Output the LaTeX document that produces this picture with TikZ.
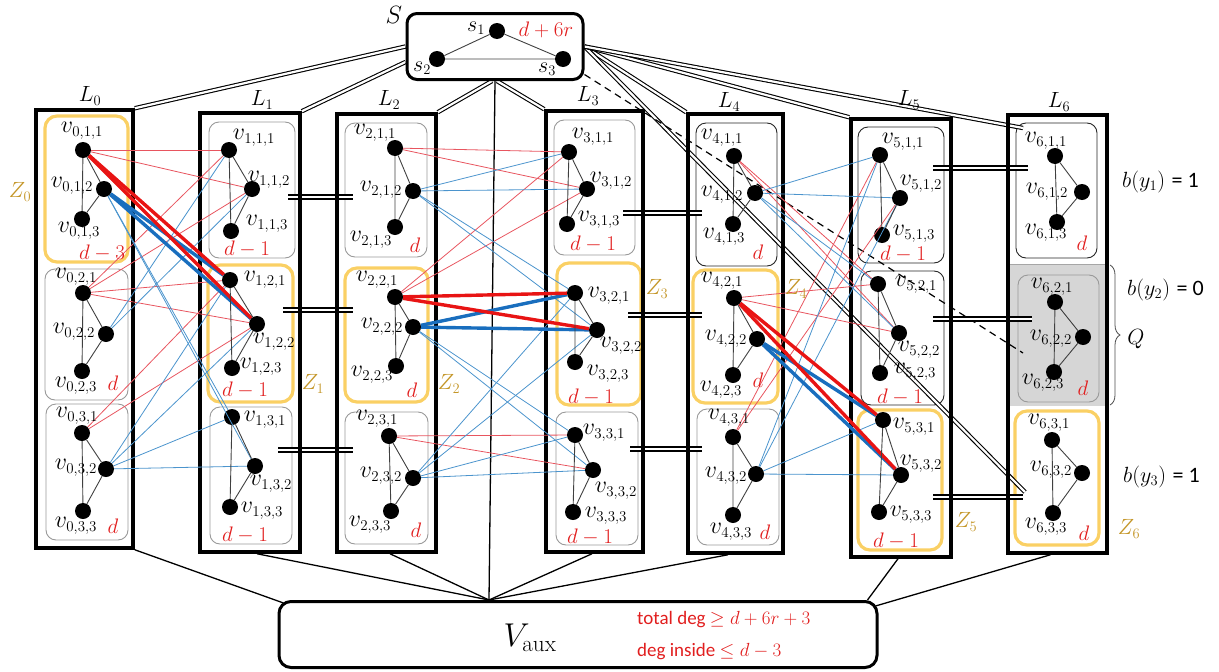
\RequirePackage{fix-cm}
\documentclass[tikz,border=0pt]{standalone}
\usepackage{fontspec}
\newfontfamily\calib{Carlito}
\usetikzlibrary{decorations.pathreplacing}
\DeclareMathSizes{24}{24}{15}{11}
\DeclareMathSizes{22}{22}{14.5}{10}
\DeclareMathSizes{25}{25}{16}{12}
\definecolor{dred}{RGB}{232,20,20}
\definecolor{lred}{RGB}{232,85,95}
\definecolor{dblue}{RGB}{25,110,190}
\definecolor{lblue}{RGB}{75,148,205}
\definecolor{zyel}{RGB}{250,208,100}
\definecolor{zgold}{RGB}{196,150,40}
\definecolor{dtxt}{RGB}{225,30,30}
\pgfdeclarelayer{bg}
\pgfdeclarelayer{mid}
\pgfsetlayers{bg,mid,main}
\newcommand{\mybox}[6]{\node[#1, minimum width={#4-#2}, minimum height={#5-#3}] (#6) at ({(#2+#4)/2},{(#3+#5)/2}) {};}
\tikzset{
 vtx/.style={circle, fill=black, inner sep=0pt, minimum size=16pt},
 vl/.style={inner sep=0pt, font=\fontsize{24}{26}\selectfont},
 sl/.style={inner sep=0pt, font=\fontsize{22}{24}\selectfont},
 dl/.style={inner sep=0pt, text=dtxt, font=\fontsize{21}{23}\selectfont},
 zl/.style={inner sep=0pt, text=zgold, font=\fontsize{22}{24}\selectfont},
 ll/.style={inner sep=0pt, font=\fontsize{22}{24}\selectfont},
 lbox/.style={draw, line width=3.5pt, inner sep=0pt},
 gbox/.style={draw=black!40, line width=0.9pt, rounded corners=10pt, inner sep=0pt},
 kbox/.style={draw=black!85, line width=0.9pt, rounded corners=10pt, inner sep=0pt},
 ybox/.style={draw=zyel, line width=3.2pt, rounded corners=12pt, inner sep=0pt},
 tri/.style={draw=black!75, line width=0.9pt},
 rt/.style={draw=lred, line width=0.8pt},
 rT/.style={draw=dred, line width=3.4pt},
 bt/.style={draw=lblue, line width=0.8pt},
 bT/.style={draw=dblue, line width=3.4pt},
 dbl/.style={double, double distance=2.2pt, line width=1.1pt},
 eqm/.style={double, double distance=2.6pt, line width=1.5pt},
 fan/.style={line width=1.3pt},
}
\begin{document}
\begin{tikzpicture}[x=1pt,y=-1pt]
\useasboundingbox (0,0) rectangle (1219,672);

% ---------- background: shading and group boxes
\begin{pgfonlayer}{bg}
\fill[black!16] (1008,264) rectangle (1107,406);
\draw[black!35, line width=0.6pt] (1008,264) -- (1107,264);
\mybox{ybox}{45}{116}{128}{262}{g01}
\mybox{gbox}{45}{269}{128}{400}{g02}
\mybox{gbox}{46}{404}{128}{540}{g03}
\mybox{gbox}{209}{122}{295}{258}{g11}
\mybox{ybox}{208}{265}{293}{402}{g12}
\mybox{gbox}{210}{407}{292}{544}{g13}
\mybox{gbox}{345}{123}{427}{257}{g21}
\mybox{ybox}{345}{268}{428}{402}{g22}
\mybox{gbox}{345}{412}{428}{544}{g23}
\mybox{gbox}{554}{120}{635}{255}{g31}
\mybox{ybox}{557}{263}{641}{405}{g32}
\mybox{gbox}{556}{412}{638}{545}{g33}
\mybox{kbox}{696}{123}{777}{266}{g41}
\mybox{ybox}{693}{270}{778}{403}{g42}
\mybox{gbox}{697}{409}{779}{545}{g43}
\mybox{kbox}{858}{127}{944}{263}{g51}
\mybox{kbox}{861}{271}{944}{405}{g52}
\mybox{ybox}{858}{410}{942}{550}{g53}
\mybox{kbox}{1016}{123}{1097}{258}{g61}
\mybox{gbox}{1018}{275}{1099}{402}{g62}
\mybox{ybox}{1015}{411}{1099}{545}{g63}
\end{pgfonlayer}

% ---------- layer boxes, S and V_aux
\mybox{lbox}{36}{110}{133}{548}{L0}
\mybox{lbox}{200}{113}{300}{552}{L1}
\mybox{lbox}{337}{114}{436}{552}{L2}
\mybox{lbox}{546}{111}{643}{552}{L3}
\mybox{lbox}{688}{114}{783}{553}{L4}
\mybox{lbox}{851}{119}{951}{557}{L5}
\mybox{lbox}{1008}{115}{1107}{553}{L6}
\node[draw, line width=3pt, rounded corners=10pt, minimum width=176, minimum height=66, inner sep=0pt] (S) at (495,46.5) {};
\node[draw, line width=3pt, rounded corners=12pt, minimum width=598, minimum height=66, inner sep=0pt] (Vaux) at (578,634.5) {};

% ---------- connectors between boxes (drawn under the boxes)
\begin{pgfonlayer}{mid}
\coordinate (vt) at ([xshift=-89]Vaux.north);
\draw[fan] (L0.south east) -- ([shift={(6,3)}]Vaux.north west);
\draw[fan] ([xshift=7]L1.south) -- (vt);
\draw[fan] ([xshift=3.5]L2.south) -- (vt);
\draw[fan] ([xshift=-2.5]L3.south) -- (vt);
\draw[fan] ([xshift=-7.5]L4.south) -- (vt);
\draw[fan] (S.south) -- (vt);
\draw[fan] ([xshift=-3]L5.south) -- ([xshift=-11]Vaux.north east);
\draw[fan] ([xshift=-7]L6.south) -- ([shift={(-3,6)}]Vaux.north east);
% S double connections
\coordinate (e1) at (1025,492);
\coordinate (e2) at (1023,128);
\coordinate (e3) at (1023,353);
\draw[dbl] (S.west) -- (L0.north east);
\draw[dbl] ([yshift=-15.5]S.west) -- (L1.north east);
\draw[dbl] ([xshift=-3]S.south) -- (L2.north east);
\draw[dbl] ([xshift=2]S.south) -- (L3.north west);
\draw[dbl] (S.east) -- (L4.north west);
\draw[dbl] (S.east) -- (e1);
\draw[dbl] (S.east) -- (L5.north west);
\draw[dbl] (S.east) -- (e2);
\draw[line width=1.2pt, dash pattern=on 7pt off 5pt] ([yshift=-28]S.east) -- (e3);
% equality marks between layers
\draw[eqm] (288,197) -- (353,197);
\draw[eqm] (283,310) -- (353,310);
\draw[eqm] (278,450) -- (353,450);
\draw[eqm] (623,213) -- (702,213);
\draw[eqm] (628,315) -- (702,315);
\draw[eqm] (630,449) -- (702,449);
\draw[eqm] (933,168) -- (1028,168);
\draw[eqm] (933,319) -- (1032,319);
\draw[eqm] (933,497) -- (1023,497);
\end{pgfonlayer}

% ---------- vertices
\foreach \LL/\GG/\NN/\XX/\YY in {
0/1/1/83/150, 0/1/2/104/189, 0/1/3/82/219,
0/2/1/83/293, 0/2/2/106/334, 0/2/3/82/371,
0/3/1/82/433, 0/3/2/106/469, 0/3/3/83/511,
1/1/1/229/150, 1/1/2/252/189, 1/1/3/231/231,
1/2/1/230/280, 1/2/2/257/324, 1/2/3/232/368,
1/3/1/232/417, 1/3/2/255/466, 1/3/3/230/507,
2/1/1/395/148, 2/1/2/413/191, 2/1/3/395/227,
2/2/1/395/297, 2/2/2/413/327, 2/2/3/396/366,
2/3/1/389/436, 2/3/2/413/478, 2/3/3/391/511,
3/1/1/569/152, 3/1/2/587/189, 3/1/3/567/224,
3/2/1/575/293, 3/2/2/597/330, 3/2/3/575/362,
3/3/1/575/435, 3/3/2/593/470, 3/3/3/573/512,
4/1/1/734/156, 4/1/2/755/193, 4/1/3/733/224,
4/2/1/734/298, 4/2/2/757/339, 4/2/3/733/375,
4/3/1/733/437, 4/3/2/756/474, 4/3/3/733/515,
5/1/1/880/155, 5/1/2/900/198, 5/1/3/882/235,
5/2/1/878/284, 5/2/2/899/333, 5/2/3/880/373,
5/3/1/883/420, 5/3/2/901/475, 5/3/3/879/512,
6/1/1/1055/156, 6/1/2/1082/192, 6/1/3/1057/222,
6/2/1/1055/302, 6/2/2/1083/337, 6/2/3/1054/372,
6/3/1/1052/440, 6/3/2/1082/473, 6/3/3/1053/513}
  \node[vtx] (v\LL\GG\NN) at (\XX,\YY) {};

% ---------- colored edges
\foreach \PP/\QQ in {011/111,011/112,021/111,021/112,021/121,021/122,031/121,031/122,
  211/311,211/312,221/311,221/312,231/331,231/332,
  411/521,411/522,421/521,421/522,431/511,431/512}
  \draw[rt] (v\PP) -- (v\QQ);
\foreach \PP/\QQ in {012/131,012/132,022/111,022/112,032/121,032/122,032/131,032/132,
  212/311,212/312,212/321,212/322,222/331,222/332,232/321,232/322,232/331,232/332,
  412/511,412/512,412/521,412/522,432/511,432/512,432/531,432/532}
  \draw[bt] (v\PP) -- (v\QQ);
\foreach \PP/\QQ in {012/121,012/122,222/321,222/322,422/531,422/532}
  \draw[bT] (v\PP) -- (v\QQ);
\foreach \PP/\QQ in {011/121,011/122,221/321,221/322,421/531,421/532}
  \draw[rT] (v\PP) -- (v\QQ);

% ---------- triangles inside groups
\foreach \LL in {0,...,6}{\foreach \GG in {1,2,3}{
  \draw[tri] (v\LL\GG1) -- (v\LL\GG2) -- (v\LL\GG3) -- (v\LL\GG1);}}

% ---------- vertex labels
\foreach \LL/\GG/\NN/\XX/\YY in {
0/1/1/82/131, 0/1/2/72/186, 0/1/3/79/231,
0/2/1/76/277, 0/2/2/74/332, 0/2/3/76/386,
0/3/1/77/416, 0/3/2/76/468, 0/3/3/76/526,
1/1/1/254/138, 1/1/2/269/180, 1/1/3/267/224,
1/2/1/265/280, 1/2/2/274/342, 1/2/3/261/367,
1/3/1/265/420, 1/3/2/271/484, 1/3/3/262/511,
2/1/1/375/133, 2/1/2/381/190, 2/1/3/371/240,
2/2/1/377/280, 2/2/2/382/327, 2/2/3/372/375,
2/3/1/377/419, 2/3/2/381/476, 2/3/3/370/525,
3/1/1/593/137, 3/1/2/611/181, 3/1/3/599/220,
3/2/1/609/296, 3/2/2/621/346, 3/2/3/608/374,
3/3/1/604/433, 3/3/2/616/491, 3/3/3/606/516,
4/1/1/722/138, 4/1/2/722/195, 4/1/3/724/237,
4/2/1/722/281, 4/2/2/726/339, 4/2/3/721/390,
4/3/1/729/418, 4/3/2/726/476, 4/3/3/731/532,
5/1/1/903/142, 5/1/2/921/184, 5/1/3/914/234,
5/2/1/916/285, 5/2/2/919/350, 5/2/3/915/372,
5/3/1/914/427, 5/3/2/921/464, 5/3/3/911/515,
6/1/1/1046/141, 6/1/2/1047/192, 6/1/3/1046/233,
6/2/1/1052/287, 6/2/2/1051/339, 6/2/3/1043/383,
6/3/1/1049/423, 6/3/2/1051/470, 6/3/3/1046/527}
  \node[vl] (t\LL\GG\NN) at (\XX,\YY) {$v_{\LL,\GG,\NN}$};

% ---------- degree labels
\foreach \LL/\GG/\XX/\YY/\TX in {
0/1/102/253/d-3, 0/2/113/383/d, 0/3/113/526/d,
1/1/247/249/d-1, 1/2/245/390/d-1, 1/3/245/535/d-1,
2/1/415/245/d, 2/2/412/390/d, 2/3/416/530/d,
3/1/593/244/d-1, 3/2/591/397/d-1, 3/3/590/537/d-1,
4/1/758/252/d, 4/2/758/380/d, 4/3/765/532/d,
5/1/903/254/d-1, 5/2/900/397/d-1, 5/3/896/541/d-1,
6/1/1082/243/d, 6/2/1083/388/d, 6/3/1084/533/d}
  \node[dl] (d\LL\GG) at (\XX,\YY) {$\TX$};

% ---------- layer and Z labels
\foreach \LL/\XX/\YY in {0/90/96, 1/262/100, 2/389/100, 3/588/96, 4/729/102, 5/909/100, 6/1059/102}
  \node[ll] (lab\LL) at (\XX,\YY) {$L_{\LL}$};
\foreach \LL/\XX/\YY in {0/20/192, 1/313/384, 2/449/384, 3/657/289, 4/796/289, 5/966/522, 6/1129/529}
  \node[zl] (z\LL) at (\XX,\YY) {$Z_{\LL}$};

% ---------- S contents
\node[vtx] (s1) at (497,31) {};
\node[vtx] (s2) at (437,59) {};
\node[vtx] (s3) at (563,59) {};
\draw[tri] (s1) -- (s2) -- (s3) -- (s1);
\node[sl] (ts1) at (476,28) {$s_1$};
\node[sl] (ts2) at (422,68) {$s_2$};
\node[sl] (ts3) at (547,69) {$s_3$};
\node[dl] (dS) at (546,30) {$d+6r$};
\node[inner sep=0pt, font=\fontsize{25}{27}\selectfont] (Slab) at (394,15) {$S$};

% ---------- V_aux contents
\node[inner sep=0pt, font=\fontsize{33}{35}\selectfont] (Vlab) at (530,638) {$V_{\mathrm{aux}}$};
\node[inner sep=0pt, anchor=west, text=dtxt, font=\calib\fontsize{19}{21}\selectfont] (tdeg) at (637,620) {total deg $\ge d+6r+3$};
\node[inner sep=0pt, anchor=west, text=dtxt, font=\calib\fontsize{19}{21}\selectfont] (ideg) at (637,652) {deg inside $\le d-3$};

% ---------- right side annotations
\node[inner sep=0pt, anchor=west, font=\fontsize{22}{24}\selectfont] (by1) at (1122,182) {$b(y_1)$ {\calib = 1}};
\node[inner sep=0pt, anchor=west, font=\fontsize{22}{24}\selectfont] (by2) at (1127,290) {$b(y_2)$ {\calib = 0}};
\node[inner sep=0pt, anchor=west, font=\fontsize{22}{24}\selectfont] (by3) at (1123,477) {$b(y_3)$ {\calib = 1}};
\coordinate (brt) at (1110,265);
\coordinate (brb) at (1110,405);
\draw[black!70, line width=0.8pt, decorate, decoration={brace, amplitude=10pt}] (brt) -- (brb);
\node[inner sep=0pt, font=\fontsize{22}{24}\selectfont] (Q) at (1136,339) {$Q$};
\end{tikzpicture}
\end{document}
